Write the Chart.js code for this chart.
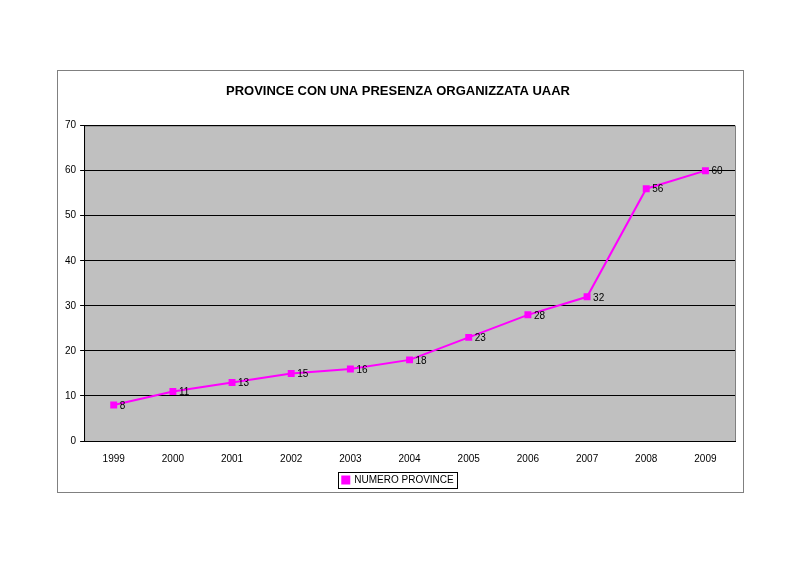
<!DOCTYPE html>
<html><head><meta charset="utf-8">
<script src="https://cdn.jsdelivr.net/npm/chart.js@4/dist/chart.umd.min.js"></script>
<style>html,body{margin:0;padding:0;background:#fff}#w{width:800px;height:565px}</style>
</head><body><div id="w"><canvas id="c"></canvas></div>
<script>
const categories = ['1999','2000','2001','2002','2003','2004','2005','2006','2007','2008','2009'];
const seriesName = 'NUMERO PROVINCE';
const values = [8,11,13,15,16,18,23,28,32,56,60];
const chartTitle = 'PROVINCE CON UNA PRESENZA ORGANIZZATA UAAR';

const deco = {
  id:'deco',
  beforeDraw(c){
    const {ctx,chartArea:a}=c;
    ctx.save();
    ctx.fillStyle='#c0c0c0';
    ctx.fillRect(a.left,a.top,a.right-a.left,a.bottom-a.top);
    ctx.strokeStyle='#808080';ctx.lineWidth=1;
    ctx.strokeRect(57.5,70.5,686,422);
    ctx.strokeRect(a.left+0.5,a.top+0.5,a.right-a.left,a.bottom-a.top);
    ctx.restore();
  },
  afterDraw(c){
    const {ctx}=c;const l=c.legend;
    if(l&&l.legendHitBoxes&&l.legendHitBoxes.length){
      const b=l.legendHitBoxes[0];
      ctx.save();ctx.strokeStyle='#000';ctx.lineWidth=1;
      ctx.strokeRect(Math.round(b.left-4)+0.5,Math.round(b.top-3)+0.5,Math.round(b.width+8),Math.round(b.height+6));
      ctx.restore();
    }
  },
  afterDatasetsDraw(c){
    const {ctx}=c;const m=c.getDatasetMeta(0);
    ctx.save();ctx.font='10px "Liberation Sans", Arial';ctx.fillStyle='#000';ctx.textBaseline='middle';
    m.data.forEach((p,i)=>ctx.fillText(String(values[i]),p.x+6,p.y+1));
    ctx.restore();
  }
};

new Chart(document.getElementById('c'),{
  type:'line',
  data:{labels:categories,datasets:[{label:seriesName,data:values,borderColor:'#ff00ff',backgroundColor:'#ff00ff',
    borderWidth:2,pointStyle:'rect',pointRadius:3.5,pointHoverRadius:3.5,tension:0}]},
  options:{responsive:true,maintainAspectRatio:false,animation:false,
    layout:{padding:{left:61,right:65,top:70,bottom:70}},
    plugins:{
      title:{display:true,text:chartTitle,color:'#000',font:{family:'"Liberation Sans", Arial',size:13,weight:'bold'},padding:{top:14,bottom:26}},
      legend:{position:'bottom',labels:{color:'#000',font:{family:'"Liberation Sans", Arial',size:10},usePointStyle:true,pointStyle:'rect',boxWidth:7,boxHeight:7,padding:6}},
      tooltip:{enabled:false}
    },
    scales:{
      x:{offset:true,grid:{display:false},border:{color:'#000'},ticks:{color:'#000',font:{family:'"Liberation Sans", Arial',size:10},padding:4}},
      y:{min:0,max:70,ticks:{stepSize:10,color:'#000',font:{family:'"Liberation Sans", Arial',size:10},padding:4},
        grid:{color:'#000',drawTicks:true,tickLength:4},border:{color:'#000'}}
    }
  },
  plugins:[deco]
});
</script></body></html>
